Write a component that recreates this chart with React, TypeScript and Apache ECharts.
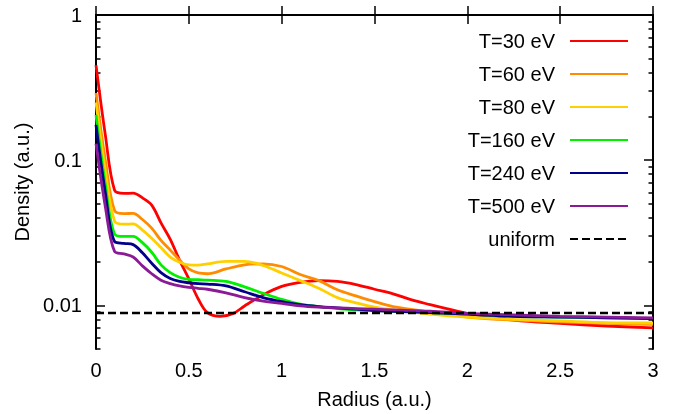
import React, { useEffect, useRef } from "react";
import * as echarts from "echarts";

// Radius grid (a.u.) for the T=30 eV curve
const radius30 = [0, 0.05, 0.1, 0.15, 0.2, 0.25, 0.3, 0.35, 0.4, 0.45, 0.5, 0.55, 0.6, 0.67, 0.74, 0.8, 0.9, 1.0, 1.1, 1.2, 1.3, 1.4, 1.5, 1.6, 1.7, 1.8, 1.9, 2.0, 2.25, 2.5, 2.75, 3.0];
const density30 = [0.452, 0.15, 0.062, 0.059, 0.0592, 0.055, 0.049, 0.037, 0.0285, 0.0205, 0.0152, 0.0111, 0.0089, 0.0084, 0.0088, 0.0099, 0.0118, 0.0135, 0.0144, 0.0148, 0.0146, 0.0139, 0.0129, 0.012, 0.0109, 0.0101, 0.0094, 0.0088, 0.0079, 0.0075, 0.0072, 0.007];

// Shared radius grid for the other curves
const radius = [0, 0.05, 0.1, 0.15, 0.2, 0.25, 0.3, 0.35, 0.4, 0.45, 0.5, 0.55, 0.6, 0.7, 0.8, 0.9, 1.0, 1.1, 1.2, 1.3, 1.4, 1.5, 1.6, 1.8, 2.0, 2.25, 2.5, 2.75, 3.0];
const density60 = [0.29, 0.1, 0.045, 0.0428, 0.043, 0.039, 0.034, 0.028, 0.024, 0.0205, 0.0178, 0.0167, 0.0165, 0.0178, 0.019, 0.0193, 0.0185, 0.0163, 0.0148, 0.0128, 0.0116, 0.0106, 0.0098, 0.009, 0.0083, 0.0079, 0.0077, 0.0075, 0.0074];
const density80 = [0.25, 0.085, 0.038, 0.0362, 0.0364, 0.033, 0.029, 0.025, 0.0215, 0.0198, 0.019, 0.0189, 0.0193, 0.0201, 0.0201, 0.0188, 0.0167, 0.0148, 0.0131, 0.0113, 0.0104, 0.0097, 0.0093, 0.0087, 0.0083, 0.008, 0.0078, 0.0076, 0.00755];
const density160 = [0.205, 0.068, 0.031, 0.0298, 0.0298, 0.027, 0.0232, 0.019, 0.0168, 0.0156, 0.0151, 0.015, 0.0149, 0.0146, 0.0134, 0.0121, 0.011, 0.0102, 0.0098, 0.0095, 0.0093, 0.0092, 0.0091, 0.0089, 0.0087, 0.0084, 0.0083, 0.0082, 0.0081];
const density240 = [0.175, 0.06, 0.0275, 0.0267, 0.0262, 0.023, 0.0195, 0.0168, 0.0153, 0.0146, 0.0143, 0.0141, 0.014, 0.0136, 0.0124, 0.0113, 0.0106, 0.0101, 0.0098, 0.0096, 0.0094, 0.0092, 0.0091, 0.0089, 0.0087, 0.0084, 0.0083, 0.0082, 0.0081];
const density500 = [0.13, 0.048, 0.0235, 0.0226, 0.0215, 0.0187, 0.0165, 0.0149, 0.0141, 0.0136, 0.0133, 0.0131, 0.0129, 0.0122, 0.0113, 0.0107, 0.0103, 0.0099, 0.0097, 0.0096, 0.0095, 0.0094, 0.0093, 0.0091, 0.0088, 0.0086, 0.0084, 0.0083, 0.0082];

const uniformRadius = [0, 3];
const uniformDensity = [0.00884, 0.00884];

const seriesNames = ["T=30 eV", "T=60 eV", "T=80 eV", "T=160 eV", "T=240 eV", "T=500 eV", "uniform"];
const seriesColors = ["#ff0000", "#ff8c00", "#ffd000", "#00f000", "#00008b", "#8b1a96", "#000000"];

const yMajorTicks = [0.01, 0.1, 1];
const yTickLabels = ["0.01", "0.1", "1"];
const yMinorTicks = [0.005, 0.006, 0.007, 0.008, 0.009, 0.02, 0.03, 0.04, 0.05, 0.06, 0.07, 0.08, 0.09, 0.2, 0.3, 0.4, 0.5, 0.6, 0.7, 0.8, 0.9];
const yMin = 0.005;
const yMax = 1;
const xMin = 0;
const xMax = 3;
const xInterval = 0.5;

const FONT = "'Liberation Sans', Arial, Helvetica, sans-serif";

export default function App() {
  const ref = useRef<HTMLDivElement>(null);

  useEffect(() => {
    const chart = echarts.init(ref.current!, null, { renderer: "svg" });
    const lg = (v: number) => Math.log10(v);
    const pairs = (xs: number[], ys: number[]) => xs.map((x, i) => [x, lg(ys[i])]);

    const curves = [
      pairs(radius30, density30),
      pairs(radius, density60),
      pairs(radius, density80),
      pairs(radius, density160),
      pairs(radius, density240),
      pairs(radius, density500),
      pairs(uniformRadius, uniformDensity),
    ];

    const textStyle = { fontFamily: FONT, fontSize: 20, color: "#000" };
    const yBase = { type: "value", min: lg(yMin), max: lg(yMax), splitLine: { show: false } };
    const majorLogs = yMajorTicks.map(lg);
    const minorLogs = yMinorTicks.map(lg);
    const fmtY = (v: number) => {
      const i = majorLogs.findIndex((t) => Math.abs(t - v) < 1e-6);
      return i >= 0 ? yTickLabels[i] : "";
    };

    const rowCenters = [42, 75, 108, 141, 174, 207, 240];

    chart.setOption({
      animation: false,
      grid: { left: 96, right: 21, top: 15, bottom: 65, containLabel: false },
      xAxis: [
        {
          type: "value",
          position: "bottom",
          min: xMin,
          max: xMax,
          interval: xInterval,
          splitLine: { show: false },
          axisLine: { show: true, lineStyle: { color: "#000", width: 2 } },
          axisTick: { show: true, inside: true, length: 9, lineStyle: { color: "#000", width: 1.5 } },
          axisLabel: { ...textStyle, margin: 11 },
          name: "Radius (a.u.)",
          nameLocation: "middle",
          nameGap: 40,
          nameTextStyle: textStyle,
        },
        {
          type: "value",
          position: "top",
          min: xMin,
          max: xMax,
          interval: xInterval,
          splitLine: { show: false },
          axisLine: { show: true, lineStyle: { color: "#000", width: 2 } },
          axisTick: { show: true, inside: true, length: 9, lineStyle: { color: "#000", width: 1.5 } },
          axisLabel: { show: false },
        },
      ],
      yAxis: [
        {
          ...yBase,
          position: "left",
          axisLine: { show: true, lineStyle: { color: "#000", width: 2 } },
          axisTick: { show: true, inside: true, length: 9, customValues: majorLogs, lineStyle: { color: "#000", width: 1.5 } },
          axisLabel: { ...textStyle, margin: 14, customValues: majorLogs, formatter: fmtY },
          name: "Density (a.u.)",
          nameLocation: "middle",
          nameGap: 58,
          nameTextStyle: textStyle,
        },
        {
          ...yBase,
          position: "left",
          axisLine: { show: false },
          axisTick: { show: true, inside: true, length: 4.5, customValues: minorLogs, lineStyle: { color: "#000", width: 1.5 } },
          axisLabel: { show: false },
        },
        {
          ...yBase,
          position: "right",
          axisLine: { show: true, lineStyle: { color: "#000", width: 2 } },
          axisTick: { show: true, inside: true, length: 9, customValues: majorLogs, lineStyle: { color: "#000", width: 1.5 } },
          axisLabel: { show: false },
        },
        {
          ...yBase,
          position: "right",
          axisLine: { show: false },
          axisTick: { show: true, inside: true, length: 4.5, customValues: minorLogs, lineStyle: { color: "#000", width: 1.5 } },
          axisLabel: { show: false },
        },
      ],
      legend: seriesNames.map((name, i) => ({
        data: [name],
        orient: "vertical",
        right: 45,
        top: rowCenters[i] - 11,
        align: "right",
        padding: 0,
        itemWidth: 58,
        itemHeight: 14,
        selectedMode: false,
        itemStyle: { opacity: 0 },
        textStyle: { ...textStyle, padding: [0, 10, 0, 0] },
      })),
      series: curves.map((data, i) => ({
        name: seriesNames[i],
        type: "line",
        xAxisIndex: 0,
        yAxisIndex: 0,
        data,
        symbol: "none",
        showSymbol: false,
        smooth: i === 6 ? false : 0.35,
        color: seriesColors[i],
        lineStyle: {
          color: seriesColors[i],
          width: i === 6 ? 2.5 : 2.8,
          type: i === 6 ? [8, 4] : "solid",
        },
        z: 2 + i,
      })),
    });

    return () => chart.dispose();
  }, []);

  return <div ref={ref} style={{ position: "fixed", left: 0, top: 0, width: 674, height: 414 }} />;
}
